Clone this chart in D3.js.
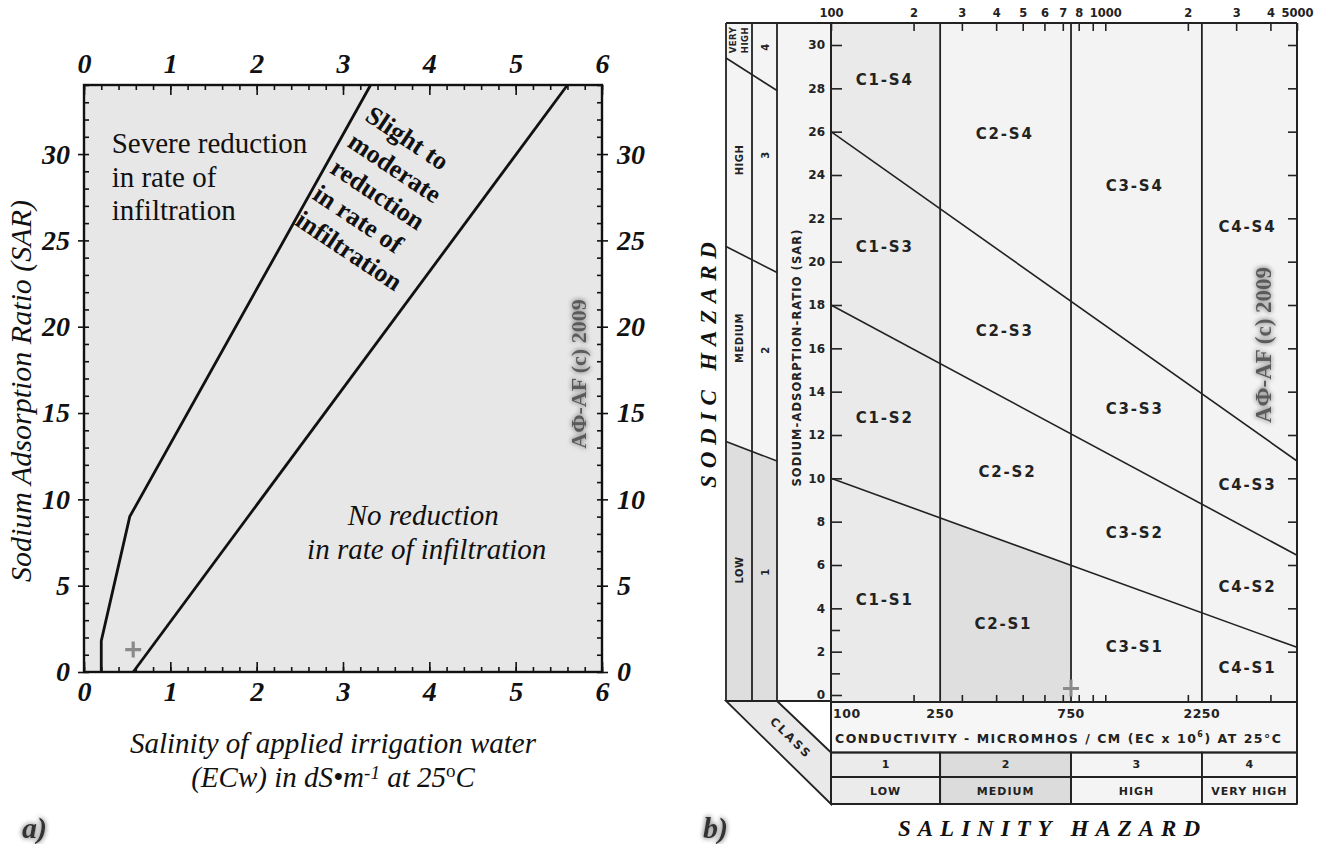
<!DOCTYPE html>
<html>
<head>
<meta charset="utf-8">
<script src="https://cdn.jsdelivr.net/npm/d3@7"></script>
<style>
body { margin: 0; background: #fff; }
svg { display: block; }
.serif { font-family: "Liberation Serif", "Times New Roman", serif; }
.lett { font-family: "DejaVu Sans", sans-serif; font-weight: bold; fill: #222; }
</style>
</head>
<body>
<div id="chart"></div>
<script>
// ---------- panel a) data ----------
const ecTicksA = [0, 1, 2, 3, 4, 5, 6];
const sarTicksA = [0, 5, 10, 15, 20, 25, 30];
const severeEC = [0.2, 0.2, 0.53, 3.32];     // boundary severe / slight-moderate
const severeSAR = [0, 1.8, 9.0, 34];
const slightEC = [0.57, 5.6];                // boundary slight-moderate / none
const slightSAR = [0, 34];

// ---------- panel b) data ----------
const ecTicksB = [100, 200, 300, 400, 500, 600, 700, 800, 900, 1000, 2000, 3000, 4000, 5000];
const ecTickLabels = ["100", "2", "3", "4", "5", "6", "7", "8", "", "1000", "2", "3", "4", "5000"];
const sarTicksB = [0, 2, 4, 6, 8, 10, 12, 14, 16, 18, 20, 22, 24, 26, 28, 30];
const sarMinorB = [1, 3];
const classBounds = [250, 750, 2250];
const classEdges = [100, 250, 750, 2250, 5000];
const classNums = ["1", "2", "3", "4"];
const classNames = ["LOW", "MEDIUM", "HIGH", "VERY HIGH"];
const sodicAt100 = [10, 18, 26];             // S1/S2, S2/S3, S3/S4 at 100 micromhos
const sodicAt5000 = [2.2, 6.45, 10.8];       // same lines at 5000 micromhos
const sodicColLeft = [11.7, 20.7, 29.4];     // sloped class marks in the SODIC column
const sodicColRight = [10.8, 19.5, 27.9];
const cellNames = ["C1-S4", "C1-S3", "C1-S2", "C1-S1", "C2-S4", "C2-S3", "C2-S2", "C2-S1",
                   "C3-S4", "C3-S3", "C3-S2", "C3-S1", "C4-S4", "C4-S3", "C4-S2", "C4-S1"];
const cellEC = [157, 157, 157, 157, 430, 430, 440, 425, 1280, 1280, 1280, 1280, 3300, 3300, 3300, 3300];
const cellSAR = [28.4, 20.7, 12.8, 4.4, 25.9, 16.8, 10.3, 3.3, 23.5, 13.2, 7.5, 2.2, 21.6, 9.7, 5.0, 1.25];

const W = 1332, H = 844;
const svg = d3.select("#chart").append("svg").attr("width", W).attr("height", H);

// blurry halo used by the watermark and panel letters
const defs = svg.append("defs");
const glow = defs.append("filter").attr("id", "glow")
  .attr("x", "-30%").attr("y", "-30%").attr("width", "160%").attr("height", "160%");
glow.append("feGaussianBlur").attr("in", "SourceAlpha").attr("stdDeviation", 2.4).attr("result", "b");
glow.append("feFlood").attr("flood-color", "#9a9a9a").attr("result", "c");
glow.append("feComposite").attr("in", "c").attr("in2", "b").attr("operator", "in").attr("result", "s");
const mg = glow.append("feMerge");
mg.append("feMergeNode").attr("in", "s");
mg.append("feMergeNode").attr("in", "s");
mg.append("feMergeNode").attr("in", "SourceGraphic");

function styleAxis(g, size) {
  g.select(".domain").remove();
  g.selectAll("line").attr("stroke", "#111").attr("stroke-width", 1.6);
  g.attr("font-family", '"Liberation Serif", serif').attr("font-size", size)
    .attr("font-weight", "bold").attr("font-style", "italic");
  g.selectAll("text").attr("fill", "#111");
}

// =============== panel a) ===============
const xA = d3.scaleLinear().domain([0, 6]).range([84, 602]);
const yA = d3.scaleLinear().domain([0, 34]).range([672, 85]);
const gA = svg.append("g");

gA.append("rect")
  .attr("x", xA(0)).attr("y", yA(34))
  .attr("width", xA(6) - xA(0)).attr("height", yA(0) - yA(34))
  .attr("fill", "#e7e7e7");

const ecMinorA = d3.range(0, 6.001, 0.2);
const sarMinorA = d3.range(0, 34.001, 1);

gA.append("g").attr("transform", `translate(0,${yA(0)})`)
  .call(d3.axisBottom(xA).tickValues(ecTicksA).tickSize(-10).tickPadding(9).tickFormat(d3.format("d")))
  .call(g => styleAxis(g, 28));
gA.append("g").attr("transform", `translate(0,${yA(0)})`)
  .call(d3.axisBottom(xA).tickValues(ecMinorA).tickSize(-5).tickFormat(""))
  .call(g => styleAxis(g, 28));
gA.append("g").attr("transform", `translate(0,${yA(34)})`)
  .call(d3.axisTop(xA).tickValues(ecTicksA).tickSize(-10).tickPadding(12).tickFormat(d3.format("d")))
  .call(g => styleAxis(g, 28));
gA.append("g").attr("transform", `translate(0,${yA(34)})`)
  .call(d3.axisTop(xA).tickValues(ecMinorA).tickSize(-5).tickFormat(""))
  .call(g => styleAxis(g, 28));

gA.append("g").attr("transform", `translate(${xA(0)},0)`)
  .call(d3.axisLeft(yA).tickValues(sarTicksA).tickSize(6).tickPadding(8))
  .call(g => styleAxis(g, 28));
gA.append("g").attr("transform", `translate(${xA(0)},0)`)
  .call(d3.axisLeft(yA).tickValues(sarMinorA).tickSize(-5).tickFormat(""))
  .call(g => styleAxis(g, 28));
gA.append("g").attr("transform", `translate(${xA(6)},0)`)
  .call(d3.axisRight(yA).tickValues(sarTicksA).tickSize(6).tickPadding(9))
  .call(g => styleAxis(g, 28));
gA.append("g").attr("transform", `translate(${xA(6)},0)`)
  .call(d3.axisRight(yA).tickValues(sarMinorA).tickSize(-5).tickFormat(""))
  .call(g => styleAxis(g, 28));

gA.append("rect")
  .attr("x", xA(0)).attr("y", yA(34))
  .attr("width", xA(6) - xA(0)).attr("height", yA(0) - yA(34))
  .attr("fill", "none").attr("stroke", "#111").attr("stroke-width", 2.4);

const lineA = d3.line().x(d => xA(d[0])).y(d => yA(d[1]));
gA.append("path").datum(d3.zip(severeEC, severeSAR))
  .attr("d", lineA).attr("fill", "none").attr("stroke", "#111").attr("stroke-width", 2.8);
gA.append("path").datum(d3.zip(slightEC, slightSAR))
  .attr("d", lineA).attr("fill", "none").attr("stroke", "#111").attr("stroke-width", 2.8);

// small grey cross near origin
const crossA = [xA(0.57), yA(1.3)];
gA.append("path")
  .attr("d", `M${crossA[0] - 8},${crossA[1]}H${crossA[0] + 8}M${crossA[0]},${crossA[1] - 8}V${crossA[1] + 8}`)
  .attr("stroke", "#8a8a8a").attr("stroke-width", 3.2);

// region labels
const severe = gA.append("text").attr("class", "serif")
  .attr("font-size", 29).attr("fill", "#111");
["Severe reduction", "in rate of", "infiltration"].forEach((t, i) =>
  severe.append("tspan").attr("x", xA(0.32)).attr("y", yA(30.06) + i * 33.5).text(t));

const slight = gA.append("text").attr("class", "serif")
  .attr("font-size", 26).attr("font-weight", "bold").attr("fill", "#111")
  .attr("transform", `translate(${xA(3.24)},${yA(32.0)}) rotate(33.7)`);
["Slight to", "moderate", "reduction", "in rate of", "infiltration"].forEach((t, i) =>
  slight.append("tspan").attr("x", 0).attr("y", i * 31.5).text(t));

const none = gA.append("text").attr("class", "serif")
  .attr("font-size", 29).attr("font-style", "italic").attr("fill", "#111").attr("text-anchor", "middle");
none.append("tspan").attr("x", xA(3.93)).attr("y", yA(8.51)).text("No reduction");
none.append("tspan").attr("x", xA(3.97)).attr("y", yA(6.54)).text("in rate of infiltration");

// axis titles
gA.append("text").attr("class", "serif")
  .attr("font-size", 30).attr("font-style", "italic").attr("fill", "#111")
  .attr("text-anchor", "middle")
  .attr("transform", `translate(31,391) rotate(-90)`)
  .text("Sodium Adsorption Ratio (SAR)");

const xt = gA.append("text").attr("class", "serif")
  .attr("font-size", 29).attr("font-style", "italic").attr("fill", "#111").attr("text-anchor", "middle");
xt.append("tspan").attr("x", 333).attr("y", 753).text("Salinity of applied irrigation water");
const xt2 = gA.append("text").attr("class", "serif")
  .attr("font-size", 29).attr("font-style", "italic").attr("fill", "#111")
  .attr("text-anchor", "middle").attr("x", 333).attr("y", 787);
xt2.append("tspan").text("(ECw) in dS\u2022m");
xt2.append("tspan").attr("font-size", 19).attr("dy", -8).text("-1");
xt2.append("tspan").attr("dy", 8).text("  at 25");
xt2.append("tspan").attr("font-size", 19).attr("font-style", "normal").attr("dy", -10).text("o");
xt2.append("tspan").attr("dy", 10).text("C");

gA.append("text").attr("class", "serif")
  .attr("font-size", 22).attr("font-weight", "bold").attr("fill", "#5a5a5a")
  .attr("filter", "url(#glow)").attr("text-anchor", "middle").attr("dominant-baseline", "central")
  .attr("transform", `translate(578,374) rotate(-90)`)
  .text("A\u03A6-AF (c) 2009");

gA.append("text").attr("class", "serif")
  .attr("x", 22).attr("y", 838)
  .attr("font-size", 30).attr("font-weight", "bold").attr("font-style", "italic")
  .attr("fill", "#333").attr("filter", "url(#glow)")
  .text("a)");

// =============== panel b) ===============
const xB = d3.scaleLog().domain([100, 5000]).range([831, 1297]);
const yB = d3.scaleLinear().domain([0, 30]).range([695, 45]);
const plotTop = 23, plotBot = 702, tRow1 = 752.5, tRow2 = 777, tRow3 = 804;
const colX = [726, 752, 777];
const gB = svg.append("g");
const ink = "#222";

// sodic class column backgrounds
gB.append("rect").attr("x", colX[0]).attr("y", plotTop)
  .attr("width", xB(100) - colX[0]).attr("height", 701 - plotTop).attr("fill", "#f4f4f4");
gB.append("path")
  .attr("d", `M${colX[0]},${yB(sodicColLeft[0])}L${colX[2]},${yB(sodicColRight[0])}V701H${colX[0]}Z`)
  .attr("fill", "#dedede");

// plot background and C1 column / C2-S1 shading
gB.append("rect").attr("x", xB(100)).attr("y", plotTop)
  .attr("width", xB(5000) - xB(100)).attr("height", plotBot - plotTop).attr("fill", "#f3f3f3");
gB.append("rect").attr("x", xB(100)).attr("y", plotTop)
  .attr("width", xB(250) - xB(100)).attr("height", plotBot - plotTop).attr("fill", "#eaeaea");

function sodicY(i, ec) {
  const t = (xB(ec) - xB(100)) / (xB(5000) - xB(100));
  return yB(sodicAt100[i]) + t * (yB(sodicAt5000[i]) - yB(sodicAt100[i]));
}
gB.append("path")
  .attr("d", `M${xB(250)},${plotBot}V${sodicY(0, 250)}L${xB(750)},${sodicY(0, 750)}V${plotBot}Z`)
  .attr("fill", "#dfdfdf");

// CLASS perspective strip
gB.append("path")
  .attr("d", `M${colX[0]},701L${colX[2]},701L${xB(100)},${tRow1}L${xB(100)},${tRow3}Z`)
  .attr("fill", "#e9e9e9").attr("stroke", ink).attr("stroke-width", 1.8);

// table rows
gB.append("rect").attr("x", xB(100)).attr("y", plotBot)
  .attr("width", xB(5000) - xB(100)).attr("height", tRow1 - plotBot).attr("fill", "#f6f6f6");
const cellFill = ["#ebebeb", "#dcdcdc", "#f4f4f4", "#f4f4f4"];
d3.range(4).forEach(i => {
  gB.append("rect").attr("x", xB(classEdges[i])).attr("y", tRow1)
    .attr("width", xB(classEdges[i + 1]) - xB(classEdges[i])).attr("height", tRow3 - tRow1)
    .attr("fill", cellFill[i]).attr("stroke", ink).attr("stroke-width", 1.6);
});
[tRow1, tRow2, tRow3].forEach(y =>
  gB.append("line").attr("x1", xB(100)).attr("x2", xB(5000)).attr("y1", y).attr("y2", y)
    .attr("stroke", ink).attr("stroke-width", 1.8));

// ticks
function styleB(g, size) {
  g.select(".domain").remove();
  g.selectAll("line").attr("stroke", ink).attr("stroke-width", 1.6);
  g.attr("font-family", '"DejaVu Sans", sans-serif').attr("font-size", size).attr("font-weight", "bold");
  g.selectAll("text").attr("fill", ink);
}
gB.append("g").attr("transform", `translate(0,${plotTop})`)
  .call(d3.axisTop(xB).tickValues(ecTicksB).tickSize(-8).tickPadding(6)
    .tickFormat((d, i) => ecTickLabels[i]))
  .call(g => styleB(g, 11.5));
gB.append("g").attr("transform", `translate(0,${plotBot})`)
  .call(d3.axisBottom(xB).tickValues(ecTicksB.slice(1, -1)).tickSize(-7).tickFormat(""))
  .call(g => styleB(g, 10));
gB.append("g").attr("transform", `translate(${xB(100)},0)`)
  .call(d3.axisLeft(yB).tickValues(sarTicksB).tickSize(-11).tickPadding(6))
  .call(g => styleB(g, 12));
gB.append("g").attr("transform", `translate(${xB(100)},0)`)
  .call(d3.axisLeft(yB).tickValues(sarMinorB).tickSize(-9).tickFormat(""))
  .call(g => styleB(g, 11));
gB.append("g").attr("transform", `translate(${xB(5000)},0)`)
  .call(d3.axisRight(yB).tickValues(sarTicksB.slice(1)).tickSize(-9).tickFormat(""))
  .call(g => styleB(g, 11));

// class boundaries and sodic lines
classBounds.forEach(ec => {
  gB.append("line").attr("x1", xB(ec)).attr("x2", xB(ec)).attr("y1", plotTop).attr("y2", plotBot)
    .attr("stroke", ink).attr("stroke-width", 1.8);
  gB.append("line").attr("x1", xB(ec)).attr("x2", xB(ec)).attr("y1", tRow1).attr("y2", tRow3)
    .attr("stroke", ink).attr("stroke-width", 1.8);
});
sodicAt100.forEach((s, i) => {
  gB.append("line")
    .attr("x1", xB(100)).attr("y1", yB(s))
    .attr("x2", xB(5000)).attr("y2", yB(sodicAt5000[i]))
    .attr("stroke", ink).attr("stroke-width", 1.6);
  gB.append("line")
    .attr("x1", colX[0]).attr("y1", yB(sodicColLeft[i]))
    .attr("x2", colX[2]).attr("y2", yB(sodicColRight[i]))
    .attr("stroke", ink).attr("stroke-width", 1.6);
});

// frame
gB.append("line").attr("x1", colX[0]).attr("x2", xB(5000)).attr("y1", plotTop).attr("y2", plotTop)
  .attr("stroke", ink).attr("stroke-width", 2);
gB.append("line").attr("x1", colX[0]).attr("x2", xB(100)).attr("y1", 701).attr("y2", 701)
  .attr("stroke", ink).attr("stroke-width", 1.8);
gB.append("line").attr("x1", xB(100)).attr("x2", xB(5000)).attr("y1", plotBot).attr("y2", plotBot)
  .attr("stroke", ink).attr("stroke-width", 2);
colX.forEach(x => gB.append("line").attr("x1", x).attr("x2", x).attr("y1", plotTop).attr("y2", 701)
  .attr("stroke", ink).attr("stroke-width", 1.8));
[xB(100), xB(5000)].forEach(x => gB.append("line").attr("x1", x).attr("x2", x)
  .attr("y1", plotTop).attr("y2", tRow3).attr("stroke", ink).attr("stroke-width", 2));

// grey cross at 750
const crossB = [xB(750), yB(0.3)];
gB.append("path")
  .attr("d", `M${crossB[0] - 8},${crossB[1]}H${crossB[0] + 8}M${crossB[0]},${crossB[1] - 9}V${crossB[1] + 8}`)
  .attr("stroke", "#8a8a8a").attr("stroke-width", 3);

// cell labels
gB.append("g").selectAll("text").data(cellNames).join("text")
  .attr("class", "lett")
  .attr("x", (d, i) => xB(cellEC[i])).attr("y", (d, i) => yB(cellSAR[i]))
  .attr("text-anchor", "middle").attr("dominant-baseline", "central")
  .attr("font-size", 15).attr("letter-spacing", 1.8)
  .text(d => d);

// sodic column words
function vText(x, y, t, size, ls) {
  gB.append("text").attr("class", "lett")
    .attr("transform", `translate(${x},${y}) rotate(-90)`)
    .attr("text-anchor", "middle").attr("dominant-baseline", "central")
    .attr("font-size", size).attr("letter-spacing", ls || 0.5).text(t);
}
vText(733, 40, "VERY", 8.5);
vText(745, 40, "HIGH", 8.5);
vText(739, 160, "HIGH", 10);
vText(739, 338, "MEDIUM", 10);
vText(739, 570, "LOW", 10);
vText(765, 47, "4", 10);
vText(765, 155, "3", 10);
vText(765, 350, "2", 10);
vText(765, 572, "1", 10);

gB.append("text").attr("class", "lett")
  .attr("transform", `translate(797,358) rotate(-90)`)
  .attr("text-anchor", "middle").attr("dominant-baseline", "central")
  .attr("font-size", 11.5).attr("textLength", 257).attr("lengthAdjust", "spacing")
  .text("SODIUM-ADSORPTION-RATIO (SAR)");

gB.append("text").attr("class", "lett")
  .attr("transform", `translate(791,738) rotate(44.5)`)
  .attr("text-anchor", "middle").attr("dominant-baseline", "central")
  .attr("font-size", 11.5).attr("letter-spacing", 2.5).text("CLASS");

// table texts
["100", "250", "750", "2250"].forEach((t, i) => {
  gB.append("text").attr("class", "lett")
    .attr("x", i === 0 ? xB(100) + 2 : xB(classEdges[i])).attr("y", 718)
    .attr("text-anchor", i === 0 ? "start" : "middle")
    .attr("font-size", 12.5).attr("letter-spacing", 0.5).text(t);
});
const cond = gB.append("text").attr("class", "lett")
  .attr("x", xB(100) + 4).attr("y", 743).attr("font-size", 12.5)
  .attr("textLength", 446).attr("lengthAdjust", "spacing");
cond.append("tspan").text("CONDUCTIVITY - MICROMHOS / CM  (EC x 10");
cond.append("tspan").attr("font-size", 8).attr("dy", -6).text("6");
cond.append("tspan").attr("dy", 6).text(")  AT  25\u00B0C");

classNums.forEach((t, i) => {
  const cx = (xB(classEdges[i]) + xB(classEdges[i + 1])) / 2;
  gB.append("text").attr("class", "lett").attr("x", cx).attr("y", (tRow1 + tRow2) / 2)
    .attr("text-anchor", "middle").attr("dominant-baseline", "central")
    .attr("font-size", 11).text(t);
  gB.append("text").attr("class", "lett").attr("x", cx).attr("y", (tRow2 + tRow3) / 2 + 1)
    .attr("text-anchor", "middle").attr("dominant-baseline", "central")
    .attr("font-size", 11).attr("letter-spacing", 1).text(classNames[i]);
});

// hazard titles
gB.append("text").attr("class", "serif")
  .attr("transform", `translate(708,365) rotate(-90)`)
  .attr("text-anchor", "middle").attr("dominant-baseline", "central")
  .attr("font-size", 23).attr("font-weight", "bold").attr("font-style", "italic").attr("fill", "#111")
  .attr("textLength", 246).attr("lengthAdjust", "spacing")
  .text("SODIC HAZARD");
gB.append("text").attr("class", "serif")
  .attr("x", 1049).attr("y", 836).attr("text-anchor", "middle")
  .attr("font-size", 23).attr("font-weight", "bold").attr("font-style", "italic").attr("fill", "#111")
  .attr("textLength", 302).attr("lengthAdjust", "spacing")
  .text("SALINITY HAZARD");

gB.append("text").attr("class", "serif")
  .attr("font-size", 23).attr("font-weight", "bold").attr("fill", "#5a5a5a")
  .attr("filter", "url(#glow)").attr("text-anchor", "middle").attr("dominant-baseline", "central")
  .attr("transform", `translate(1263,345) rotate(-90)`)
  .text("A\u03A6-AF (c) 2009");

gB.append("text").attr("class", "serif")
  .attr("x", 703).attr("y", 838)
  .attr("font-size", 30).attr("font-weight", "bold").attr("font-style", "italic")
  .attr("fill", "#333").attr("filter", "url(#glow)")
  .text("b)");
</script>
</body>
</html>
